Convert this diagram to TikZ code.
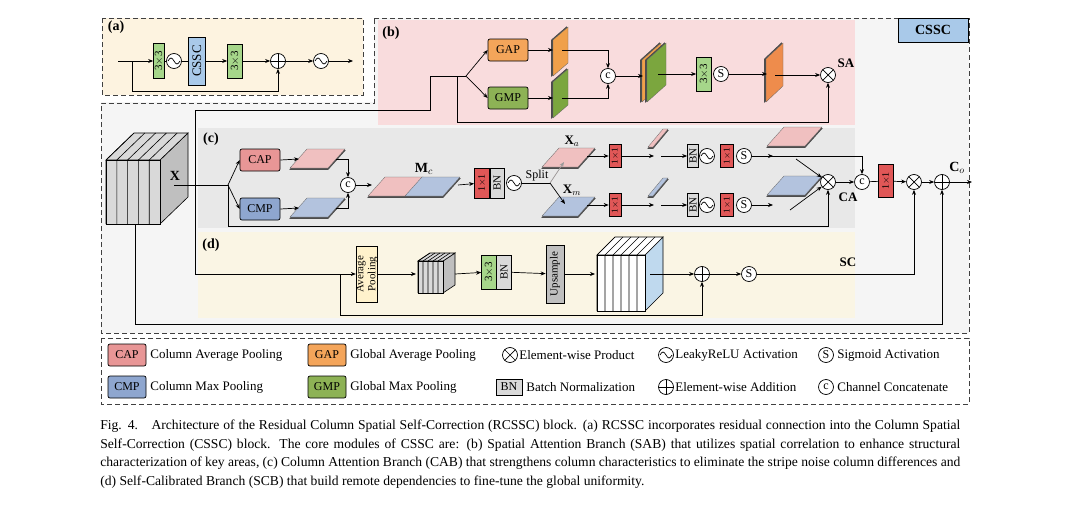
\documentclass[tikz,border=0pt]{standalone}
\usepackage{fontspec}
\setmainfont{Liberation Serif}
\usetikzlibrary{arrows.meta,calc}
\definecolor{creamA}{HTML}{FDF3E0}
\definecolor{pinkB}{HTML}{F9DCDD}
\definecolor{grayBG}{HTML}{F5F5F5}
\definecolor{grayC}{HTML}{E8E8E8}
\definecolor{creamD}{HTML}{FAF5E4}
\definecolor{capc}{HTML}{E89696}
\definecolor{cmpc}{HTML}{8EA6CF}
\definecolor{gapc}{HTML}{F4A55A}
\definecolor{gmpc}{HTML}{8DB255}
\definecolor{conv}{HTML}{A6D68A}
\definecolor{onec}{HTML}{E05757}
\definecolor{bnc}{HTML}{D9D9D9}
\definecolor{cssc}{HTML}{A9C9E9}
\definecolor{avgc}{HTML}{FFF2CC}
\definecolor{upc}{HTML}{BFBFBF}
\definecolor{ppink}{HTML}{F0C0C0}
\definecolor{pblue}{HTML}{B3C3DE}
\definecolor{porange}{HTML}{F0A04A}
\definecolor{pgreen}{HTML}{7BA63E}
\definecolor{porange2}{HTML}{EE8C4C}
\definecolor{lblue}{HTML}{BFD9EE}
\newcommand\pgm[6]{% fill, x, y(bottom), width, height, top offset
  \filldraw[fill=black!70,draw=black!70] (#2,-#3-1.5) -- ++(#4,0) -- ++(#6,#5) -- ++(-#4,0) -- cycle;
  \filldraw[fill=#1,draw=black!60,line width=0.3pt] (#2,-#3) -- ++(#4,0) -- ++(#6,#5) -- ++(-#4,0) -- cycle;}
\newcommand\vpg[6]{% fill, x, y(bottom-left), width, height, shear
  \filldraw[fill=black!70,draw=black!70] (#2-1.5,-#3) -- ++(#4,#6) -- ++(0,#5) -- ++(-#4,-#6) -- cycle;
  \filldraw[fill=#1,draw=black!60,line width=0.3pt] (#2,-#3) -- ++(#4,#6) -- ++(0,#5) -- ++(-#4,-#6) -- cycle;}
\newcommand\mycube[9]{% x, ytop, w, h, dx, dy, n, front, side
  \filldraw[fill=#9,draw=black,line width=0.6pt] (#1+#3,-#2) -- ++(#5,#6) -- ++(0,-#4) -- ++(-#5,-#6) -- cycle;
  \filldraw[fill=#8,draw=black,line width=0.6pt] (#1,-#2) -- ++(#5,#6) -- ++(#3,0) -- ++(-#5,-#6) -- cycle;
  \filldraw[fill=#8,draw=black,line width=0.6pt] (#1,-#2) rectangle ++(#3,-#4);
  \foreach \i in {1,...,#7}{\draw[line width=0.6pt] (#1+\i*#3/#7-#3/#7,-#2) -- ++(0,-#4) (#1+\i*#3/#7-#3/#7,-#2) -- ++(#5,#6);}}
\tikzset{
  x=1pt,y=1pt,
  >={Stealth[length=5pt,width=4pt]},
  every path/.style={line width=0.7pt},
  ln/.style={line width=0.7pt},
  ar/.style={->,line width=0.7pt},
  box/.style={draw,rounded corners=2pt,minimum width=40pt,minimum height=22pt,inner sep=1pt,font=\fontsize{12}{12}\selectfont},
  rbox/.style={draw,rotate=90,inner sep=0pt,font=\fontsize{11}{11}\selectfont},
  op/.style={circle,draw,minimum size=15pt,inner sep=0pt,fill=white},
  otimes/.style={op,path picture={\draw ([shift={(45:8pt)}]path picture bounding box.center) -- ([shift={(225:8pt)}]path picture bounding box.center) ([shift={(135:8pt)}]path picture bounding box.center) -- ([shift={(315:8pt)}]path picture bounding box.center);}},
  oplus/.style={op,path picture={\draw ([shift={(90:8pt)}]path picture bounding box.center) -- ([shift={(270:8pt)}]path picture bounding box.center) ([shift={(180:8pt)}]path picture bounding box.center) -- ([shift={(0:8pt)}]path picture bounding box.center);}},
  otilde/.style={op,path picture={\draw ([xshift=-6pt]path picture bounding box.center) sin ++(3pt,3pt) cos ++(3pt,-3pt) sin ++(3pt,-3pt) cos ++(3pt,3pt);}},
  oc/.style={op,font=\fontsize{12}{12}\selectfont,inner sep=0pt},
  lab/.style={font=\fontsize{14}{14}\selectfont\bfseries},
  leg/.style={font=\fontsize{13}{13}\selectfont,anchor=west,inner sep=0pt},
  dsh/.style={dashed,dash pattern=on 5pt off 3pt,line width=0.8pt,draw=black!75},
}
\begin{document}
\begin{tikzpicture}
\useasboundingbox (0,0) rectangle (1072,-506);
% backgrounds
\fill[grayBG] (101,-102) rectangle (969,-333);
\fill[grayBG] (374,-18) rectangle (969,-102);
\fill[creamA] (102,-18) rectangle (363,-95);
\fill[pinkB] (378,-20) rectangle (855,-125);
\fill[grayC] (198,-128) rectangle (855,-228);
\fill[creamD] (198,-232) rectangle (855,-318);
\draw[dsh] (102,-18) rectangle (363,-95);
\draw[dsh] (374,-18) -- (969,-18) -- (969,-333) -- (101,-333) -- (101,-103) -- (374,-103) -- cycle;
\node[draw,fill=cssc,minimum width=70pt,minimum height=24pt,font=\fontsize{14}{14}\selectfont\bfseries] (csscl) at (933,-30) {CSSC};
\node[lab] (la) at (116,-27) {(a)};
\node[lab] (lb) at (391,-33) {(b)};
\node[lab] (lc) at (211,-139) {(c)};
\node[lab] (ld) at (211,-245) {(d)};
% ---------- (a)
\coordinate (ain) at (118,-61);
\coordinate (abr) at (132,-61);
\node[rbox,fill=conv,minimum width=35pt,minimum height=11pt] (ac1) at (159,-61) {3$\times$3};
\node[otilde] (at1) at (174,-61) {};
\node[rbox,fill=cssc,minimum width=48pt,minimum height=17pt,font=\fontsize{13}{13}\selectfont] (acs) at (197,-61) {CSSC};
\node[rbox,fill=conv,minimum width=34pt,minimum height=15pt] (ac2) at (235,-61) {3$\times$3};
\node[oplus] (ap) at (278,-61) {};
\node[otilde] (at2) at (321,-61) {};
\coordinate (aout) at (353,-61);
\draw[ar] (ain) -- (ac1);
\draw[ln] (ac1) -- (at1) (at1) -- (acs);
\draw[ar] (acs) -- (ac2);
\draw[ar] (ac2) -- (ap);
\draw[ar] (ap) -- (at2);
\draw[ar] (at2) -- (aout);
\draw[ar] (abr) |- (278,-91) -- (ap);
% ---------- X cube
\mycube{106}{160}{54}{64}{28}{27}{5}{bnc}{upc}
\node[font=\fontsize{14}{14}\selectfont\bfseries] (X) at (175,-176) {X};
\coordinate (xo) at (174,-185);
\coordinate (xbr) at (228,-185);
\coordinate (vx) at (195,-110);
% ---------- (b)
\node[box,fill=gapc] (gap) at (508,-50) {GAP};
\node[box,fill=gmpc] (gmp) at (508,-98) {GMP};
\coordinate (bbr) at (466,-76);
\draw[ln] (195,-274) -- (vx) -| (430,-76) -- (bbr);
\draw[ar] (bbr) -- (gap.west);
\draw[ar] (bbr) -- (gmp.west);
\vpg{porange}{553}{76}{15}{36}{13}
\vpg{pgreen}{553}{118}{15}{36}{13}
\node[oc] (bc) at (608,-76) {c};
\draw[ar] (gap.east) -- (553,-50);
\draw[ar] (gmp.east) -- (553,-98);
\draw[ar] (562,-50) -| (bc.north);
\draw[ar] (562,-98) -| (bc.south);
\vpg{porange}{642}{102}{19}{42}{17}
\vpg{pgreen}{647}{102}{19}{42}{17}
\draw[ar] (bc) -- (643,-76);
\node[rbox,fill=conv,minimum width=34pt,minimum height=15pt] (bcv) at (704,-74) {3$\times$3};
\node[oc] (bs) at (721,-74) {S};
\draw[ar] (658,-74) -- (bcv);
\vpg{porange2}{766}{102}{17}{43}{16}
\draw[ar] (bs) -- (767,-74);
\node[otimes] (sa) at (828,-75) {};
\draw[ar] (775,-75) -- (sa);
\node[lab,font=\fontsize{13}{13}\selectfont\bfseries] (sal) at (846,-63) {SA};
\draw[ar] (457,-76) |- (828,-122) -- (sa.south);
% ---------- (c)
\node[box,fill=capc] (cap) at (260,-160) {CAP};
\node[box,fill=cmpc] (cmp) at (260,-209) {CMP};
\draw[ln] (xo) -- (xbr);
\draw[ar] (xbr) -- (cap.west);
\draw[ar] (xbr) -- (cmp.west);
\pgm{ppink}{290}{168}{38}{19}{17}
\pgm{pblue}{290}{217}{38}{19}{17}
\draw[ar] (cap.east) -- (299,-159);
\draw[ar] (cmp.east) -- (299,-208);
\node[oc] (cc) at (348,-185) {c};
\draw[ar] (336,-159) -| (cc.north);
\draw[ar] (336,-208) -| (cc.south);
\pgm{ppink}{368}{196}{38}{19}{17}
\pgm{pblue}{405}{196}{38}{19}{17}
\draw[ar] (cc) -- (372,-185);
\node[font=\fontsize{14}{14}\selectfont] (mc) at (424,-169) {$\mathbf{M}_c$};
\node[draw,fill=onec,minimum width=15pt,minimum height=30pt,inner sep=0pt] (c11) at (482,-183) {};
\node[rotate=90,font=\fontsize{10}{10}\selectfont] at (482,-183) {1$\times$1};
\node[rbox,fill=bnc,minimum width=30pt,minimum height=14pt] (cbn) at (497,-183) {BN};
\draw[ar] (458,-185) -- (c11);
\node[otilde] (ct) at (514,-183) {};
\coordinate (split) at (550,-183);
\draw[ln] (ct) -- (split);
\node[font=\fontsize{12}{12}\selectfont] (spl) at (537,-176) {Split};
\pgm{ppink}{542}{167}{36}{19}{17}
\pgm{pblue}{542}{216}{36}{19}{17}
\draw[->,line width=0.7pt,draw=black!40,fill=capc] (split) -- (564,-162);
\draw[ar] (split) -- (565,-204);
\node[font=\fontsize{13}{13}\selectfont] (xa) at (572,-141) {$\mathbf{X}_a$};
\node[font=\fontsize{13}{13}\selectfont] (xm) at (572,-190) {$\mathbf{X}_m$};
\foreach \r/\y/\c in {a/156/ppink,m/205/pblue}{
  \node[draw,fill=onec,minimum width=12pt,minimum height=23pt,inner sep=0pt] (o1\r) at (615,-\y) {};
  \node[rotate=90,font=\fontsize{9}{9}\selectfont] at (615,-\y) {1$\times$1};
  \draw[ar] (587,-\y) -- (o1\r);
  \pgm{\c}{648}{\y+9}{5}{18}{15}
  \draw[ar] (o1\r) -- (654,-\y);
  \node[rbox,fill=bnc,minimum width=23pt,minimum height=11pt] (bn\r) at (693,-\y) {BN};
  \draw[ar] (661,-\y) -- (bn\r);
  \node[otilde] (tl\r) at (707,-\y) {};
  \node[draw,fill=onec,minimum width=13pt,minimum height=23pt,inner sep=0pt] (o2\r) at (727,-\y) {};
  \node[rotate=90,font=\fontsize{9}{9}\selectfont] at (727,-\y) {1$\times$1};
  \node[oc] (s\r) at (744,-\y) {S};
  \pgm{\c}{767}{\y+10}{38}{19}{17}
  \draw[ar] (s\r) -- (773,-\y);
}
\node[otimes] (ca) at (828,-182) {};
\draw[ar] (796,-159) -- (ca);
\draw[ar] (790,-210) -- (ca);
\draw[ar] (xbr) |- (828,-226) -- (ca.south);
\node[lab,font=\fontsize{13}{13}\selectfont\bfseries] (cal) at (848,-197) {CA};
\node[oc] (fc) at (862,-182) {c};
\draw[ar] (ca) -- (fc);
\draw[ar] (sa.east) -| (fc.north);
\node[draw,fill=onec,minimum width=15pt,minimum height=33pt,inner sep=0pt] (f11) at (886,-181) {};
\node[rotate=90,font=\fontsize{10}{10}\selectfont] at (886,-181) {1$\times$1};
\draw[ln] (fc) -- (f11);
\node[otimes] (fm) at (914,-182) {};
\node[oplus] (fp) at (942,-182) {};
\draw[ar] (f11) -- (fm);
\draw[ar] (fm) -- (fp);
\coordinate (co) at (972,-182);
\draw[ar] (fp) -- (co);
\node[font=\fontsize{14}{14}\selectfont] (col) at (957,-168) {$\mathbf{C}_o$};
% ---------- (d)
\node[rbox,fill=avgc,minimum width=56pt,minimum height=18pt,align=center,font=\fontsize{11}{12}\selectfont] (avg) at (367,-274) {Average\\Pooling};
\draw[ar] (195,-274) -- (avg);
\mycube{418}{261}{25}{32}{12}{8}{5}{bnc}{upc}
\draw[ar] (avg) -- (416,-274);
\node[rbox,fill=conv,minimum width=34pt,minimum height=15pt] (dcv) at (489,-272) {3$\times$3};
\node[rbox,fill=bnc,minimum width=34pt,minimum height=15pt] (dbn) at (504,-272) {BN};
\draw[ar] (455,-274) -- (dcv);
\node[rbox,fill=upc,minimum width=58pt,minimum height=18pt] (up) at (555,-274) {Upsample};
\draw[ar] (dbn) -- (up);
\mycube{597}{255}{48}{56}{18}{18}{6}{white}{lblue}
\draw[ar] (up) -- (595,-274);
\node[oplus] (dp) at (702,-274) {};
\draw[ar] (650,-274) -- (dp);
\node[oc] (ds) at (749,-274) {S};
\draw[ar] (dp) -- (ds);
\node[lab,font=\fontsize{13}{13}\selectfont\bfseries] (scl) at (848,-262) {SC};
\draw[ar] (ds) -| (fm.south);
\draw[ar] (340,-274) |- (702,-315) -- (dp.south);
\draw[ar] (135,-224) |- (942,-324) -- (fp.south);
% ---------- legend
\draw[dsh] (101,-338) rectangle (969,-404);
\foreach \t/\f/\xx/\yy/\d in {CAP/capc/127/355/Column Average Pooling, CMP/cmpc/127/387/Column Max Pooling, GAP/gapc/327/355/Global Average Pooling, GMP/gmpc/327/387/Global Max Pooling}{
  \node[draw,rounded corners=2pt,fill=\f,minimum width=38pt,minimum height=22pt,inner sep=1pt,font=\fontsize{12}{12}\selectfont] (L\t) at (\xx,-\yy) {\t};
  \node[leg] at (\xx+23,-\yy) {\d};
}
\node[otimes] (Lx) at (510,-355) {};
\node[leg] at (519,-355) {Element-wise Product};
\node[draw,fill=bnc,minimum width=26pt,minimum height=16pt,inner sep=1pt,font=\fontsize{12}{12}\selectfont] (Lbn) at (509,-387) {BN};
\node[leg] at (526,-387) {Batch Normalization};
\node[otilde] (Lt) at (666,-355) {};
\node[leg] at (675,-355) {LeakyReLU Activation};
\node[oplus] (Lp) at (666,-387) {};
\node[leg] at (675,-387) {Element-wise Addition};
\node[oc] (Ls) at (826,-355) {S};
\node[leg] at (837,-355) {Sigmoid Activation};
\node[oc] (Lc) at (826,-387) {c};
\node[leg] at (837,-387) {Channel Concatenate};
% ---------- caption
\node[anchor=north west,text width=860pt,align=justify,inner sep=0pt,font=\fontsize{13.6}{18.5}\selectfont] (cap) at (100,-420) {Fig. 4.\quad Architecture of the Residual Column Spatial Self-Correction (RCSSC) block. (a) RCSSC incorporates residual connection into the Column Spatial\linebreak Self-Correction (CSSC) block. The core modules of CSSC are: (b) Spatial Attention Branch (SAB) that utilizes spatial correlation to enhance structural\linebreak characterization of key areas, (c) Column Attention Branch (CAB) that strengthens column characteristics to eliminate the stripe noise column differences and\linebreak (d) Self-Calibrated Branch (SCB) that build remote dependencies to fine-tune the global uniformity.};
\end{tikzpicture}
\end{document}
